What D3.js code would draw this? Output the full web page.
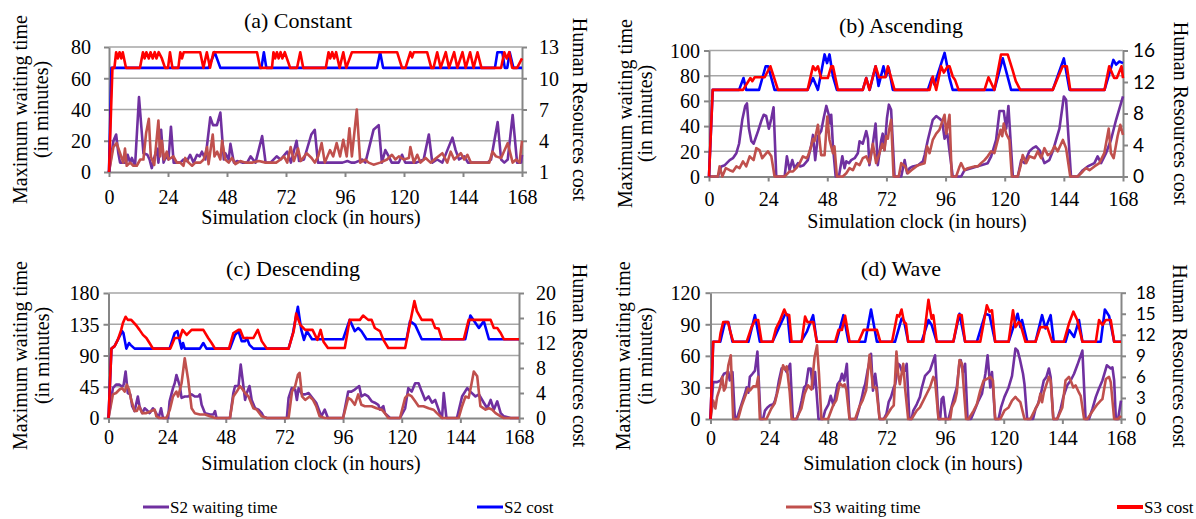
<!DOCTYPE html>
<html>
<head>
<meta charset="utf-8">
<script src="https://cdn.jsdelivr.net/npm/d3@7"></script>
<style>
  body { margin: 0; background: #fff; }
</style>
</head>
<body>
<script>
// ---- shared axis values ----
var xTicks = [0, 24, 48, 72, 96, 120, 144, 168];
var seriesNames = ["S2 waiting time", "S2 cost", "S3 waiting time", "S3 cost"];
var panelTitles = ["(a) Constant", "(b) Ascending", "(c) Descending", "(d) Wave"];

var constLeftTicks = [0, 20, 40, 60, 80];
var constRightTicks = [1, 4, 7, 10, 13];
var ascLeftTicks = [0, 20, 40, 60, 80, 100];
var ascRightTicks = [0, 4, 8, 12, 16];
var descLeftTicks = [0, 45, 90, 135, 180];
var descRightTicks = [0, 4, 8, 12, 16, 20];
var waveLeftTicks = [0, 30, 60, 90, 120];
var waveRightTicks = [0, 3, 6, 9, 12, 15, 18];

// ---- (a) constant: [hour, value] ----
var constS2Wait = [[0,0],[1.8,20],[2.9,24],[3.8,12],[4.5,6],[6,6],[7,6],[7.6,11],[8.6,6],[9.3,9],[10.6,4],[12.2,48],[14,12],[15.6,11],[16.5,8],[17.4,2.5],[18.4,9],[19.5,15],[20.1,6],[21.2,27],[22.2,6],[23.2,10],[24.2,8],[25.2,29],[26.3,6],[27.6,6],[29,6],[30.3,8],[31.7,7],[33,11],[34.4,6],[35.8,11],[36.9,10],[37.8,13],[39.2,8],[41.2,35],[42.3,30],[43.9,30],[45.3,38],[46.7,8],[47.3,12],[48.7,8],[49.4,18],[50.8,6],[52.1,7],[54.2,6],[56.2,6],[57.6,10],[59.6,6],[62.3,23],[63.7,6],[65.7,6],[68.2,10],[69.8,8],[72.5,13],[74,6],[76.3,20],[77.3,7],[79.3,8],[82.3,24],[83.7,27],[85,6],[88.5,6],[91,6],[95,6],[97,7],[98.5,6],[100,6],[103,8],[104.3,6],[107.6,27],[109.7,30],[111,6],[112.4,14],[113.8,10],[115,6],[117.9,6],[119.2,11],[120.5,6],[125,6],[128,8],[130.1,24],[131.5,6],[133.5,8],[135.6,6],[139.7,22],[141,14],[142.4,8],[144.5,10],[146,6],[150,6],[154,6],[155.4,8],[158.1,32],[159.5,8],[160.8,6],[162.2,8],[164.2,36.5],[166,6],[167.6,6],[168,11]];
var constS3Wait = [[0,0],[1.8,16],[3.1,18.5],[4.5,12],[5.8,6],[6.5,15],[7.2,4],[8.6,6],[9.9,4],[11.3,4],[12.7,8],[14,8],[15.1,25],[16.2,34],[17,10],[18.4,4.5],[20.1,33],[20.8,10],[21.5,20],[22.4,8],[23.5,13],[24.2,8],[26.2,10],[27.6,6],[29,6],[30.3,4],[31,9],[32.4,6],[33.8,4],[35.1,6],[37.2,6],[38.5,8],[39.9,16],[40.5,5],[42.2,24],[42.9,10],[44,13],[45.3,8],[46,20],[47.3,8],[48.7,6],[50,9],[51.4,5],[53.4,7],[55.5,6],[58.2,6],[61,7],[63.7,6],[68,6],[69.8,8],[71.2,10],[72.5,6],[73.9,16],[75.2,7],[76.9,15],[78,7],[80.4,12],[82.4,9],[83.7,6],[85.1,10],[86.5,18.5],[87.8,6],[89.9,14],[91.2,10],[92.6,18.5],[94,10],[95.3,20.6],[96.7,10],[97.8,28],[98.8,10],[100.8,40],[102.2,6],[104.2,8],[105.6,6],[107.6,4.7],[110.3,6],[113.1,8],[115.1,11],[116.5,8],[117.9,10],[119.9,8],[122,9],[122.6,16],[124,6],[125.4,11],[126.7,6],[128.8,9],[130.8,6],[135.6,12],[137.6,6],[139,13],[140.4,8],[143.1,12],[144.5,8],[145.8,11],[147.2,6],[152.6,6],[154.7,6],[156,13],[157.4,10],[159.5,9],[162.2,18.5],[164.2,6],[165.6,8],[167,6],[168,20]];
var constS2Cost = [[0,1],[1,11],[40.5,11],[43,12.5],[45.3,11],[62,11],[63,12.5],[64,11],[109,11],[110.3,12.5],[111.5,11],[157,11],[158,12.5],[160,12.5],[161,11],[162,11],[163,12.5],[164.5,11],[168,11]];
var constS3Cost = [[0,1],[1.4,11],[2.2,11],[2.9,12.5],[3.6,11.9],[4.3,12.5],[5,11.9],[5.6,12.5],[6.9,11],[12.6,11],[13.8,12.5],[14.5,11.9],[15.2,12.5],[16.2,11.9],[16.9,12.5],[17.8,11.9],[18.6,12.5],[19.3,11.9],[20.2,12.5],[21.5,11.9],[22.8,11],[24,11],[24.8,12.5],[25.8,11],[28.2,11],[29,12.5],[29.7,11.9],[30.4,12.5],[37.1,12.5],[38.4,11],[39.8,12.5],[41.1,11],[42.5,12.5],[60.2,12.5],[61.5,11],[66.3,11],[66.9,12.5],[67.6,11.9],[68.3,12.5],[69,11.9],[69.8,12.5],[70.5,11.9],[71.5,12.5],[73.7,11],[76.5,11],[77.8,12.5],[79,11],[88.2,11],[89.3,12.5],[90,11.9],[90.8,12.5],[91.6,11.9],[92.4,12.5],[93.8,11],[95.3,12.5],[96.5,11],[98.8,12.5],[117.2,12.5],[119.2,11],[120.6,11],[122.6,12.5],[123.3,12],[124,12.5],[129.4,12.5],[131.1,11],[132,11],[133.5,12.5],[134.9,11],[137,12.5],[138.3,11],[140.4,12.5],[141.7,11],[143.8,12.5],[145.1,11],[146.9,12.5],[148.3,11],[149.9,12.5],[151.5,11],[159.5,11],[160.8,12.5],[161.8,11.9],[162.8,12.5],[164,11],[166,11],[168,11.9]];

// ---- (b) ascending ----
var ascS2Wait = [[0,0],[3.6,0],[5,8],[6.4,9],[8.4,13],[9.7,14.5],[11.1,18.5],[12.2,26],[13.5,45],[14.7,56],[15.4,58],[16.2,38],[17.2,28],[18.1,26],[19.9,36],[21.2,44],[22.2,49],[23.2,48],[24.3,38],[25.3,46],[26.2,55],[27.3,0],[30.7,0],[31.6,16],[32.7,5],[33.8,13],[34.7,6.6],[36.1,10.6],[37,8],[38.4,9],[40.1,13],[41.5,25],[42.2,33],[43.1,13],[44.2,32],[45.5,36],[46.5,46],[47.6,56],[48.6,49],[49.2,42],[49.6,49],[50.3,24],[51.4,0],[52.7,0],[54.1,16],[55,6.6],[55.7,12],[56.8,10.6],[57.7,13],[59.1,14.5],[60.4,18.5],[61.1,28],[62.4,26],[63.8,36],[64.5,30],[65.1,9],[66.5,26],[67.6,42],[68.5,9],[69.9,29],[70.5,34],[71.2,21],[72.2,46],[73,57],[73.9,53],[75.3,0],[78,0],[79.4,13],[80.4,2.6],[81.4,6.6],[82.7,8],[84.8,9],[86.8,12],[87.5,17],[88.8,29],[90.8,45],[92.2,48],[93.5,46],[94.6,44],[95.6,30],[96.7,34],[98.9,0],[102.3,0],[103.7,5],[106.4,6.6],[110.4,9],[113.1,10.6],[114.5,16],[116.5,29],[117.9,52],[119.6,52],[120.6,38],[121.5,56],[123.3,0],[125.3,0],[126.7,13],[128,10.6],[130,20],[131.4,22.5],[132.7,24],[134.1,21],[136.1,10.6],[138.1,13],[139.5,20],[141.3,32],[142.2,38],[144,63.5],[144.9,61],[146.9,0],[149.6,0],[151.7,5],[153.7,8],[156.4,10.6],[157.7,16],[159.1,10.6],[161.1,18.5],[163.1,29],[165.2,45],[168,63.5]];
var ascS3Wait = [[0,0],[3.6,0],[4.3,8],[5.4,0],[6.8,6.6],[8.4,5],[9.7,4],[11.1,8],[12.4,6.6],[13.8,12],[15.1,8],[16.5,16],[18.1,13],[19.2,22.5],[20.5,21],[21.6,14.5],[22.6,17],[23.9,20],[25.3,16],[26.6,0],[30.7,0],[32.7,4],[34.1,4],[35.4,6.6],[36.8,10.6],[38.1,16],[39.5,14.5],[40.1,16],[41.5,24],[42.2,30],[42.8,28],[44.2,41],[45.5,17],[46.9,17],[48,47.6],[48.9,29],[50.3,18.5],[50.9,24],[51.9,0],[54.3,0],[55.7,2.6],[57,6.6],[58.4,5],[59.7,10.6],[61.1,9],[62.4,14.5],[63.8,16],[65.1,10.6],[66.5,26],[67.8,10.6],[69.2,18.5],[70.3,26],[71.2,21],[71.9,32],[72.6,30],[73,36],[73.9,45],[74.9,0],[77,0],[78,10.6],[79.6,8],[80.7,2.6],[82.1,5],[84.8,9],[87.5,10.6],[88.5,24],[89.5,18.5],[90.8,29],[92.2,34],[93.5,37],[95.6,49],[96.3,34],[97.6,49],[98.5,0],[100.3,0],[101.7,8],[102.3,10.6],[103.7,5],[105,6.6],[107.7,8],[109.1,8],[110.4,10.6],[111.8,13],[113.1,16],[114.5,20],[115.8,18.5],[117.2,29],[118.3,37],[119,32],[119.6,42],[120.6,34],[121.9,29],[122.9,0],[125.3,0],[126.4,8],[127.3,17],[128.7,10.6],[130,16],[132.1,14.5],[133.4,20],[134.8,14.5],[136.1,22.5],[137.5,17],[138.8,18.5],[140.2,24],[141.5,20],[143.6,29],[144.9,22.5],[146.6,0],[149.6,0],[151.7,4],[153,6.6],[154.4,5],[156.4,8],[158.4,10.6],[160.4,18.5],[162.2,38],[163.1,18.5],[164.2,14.5],[165.8,32],[166.9,41],[168,33]];
var ascS2Cost = [[0,0],[1.5,11],[12.2,11],[14,12.5],[15.1,11],[20.3,11],[23,14],[24,14],[26.6,11],[40,11],[42.2,12.5],[44.2,11],[46.9,15.5],[47.9,14.4],[48.9,15.5],[50.3,12.7],[51.9,11],[62.4,11],[63.8,12.5],[65.2,11],[67.6,14],[68.8,11.5],[70.8,14],[71.8,12.7],[72.9,13.8],[74.6,11],[88.8,11],[90.4,12.5],[91.5,11.7],[95.6,15.7],[97.6,12.5],[98.9,11],[115.8,11],[119.2,15],[122.6,11],[139.5,11],[144,15],[146.3,11],[160.5,11],[164.1,14.8],[165.2,14.2],[166.5,14.6],[168,14.4]];
var ascS3Cost = [[0,0],[1.5,11],[13.8,11],[16.8,12.5],[17.6,12.1],[18.5,12.6],[22.6,12.6],[24.9,14],[28,11],[40,11],[42.2,14],[43.2,13.5],[44.2,14],[45.5,12.5],[48.2,12.5],[49.6,14],[50.3,14],[52.3,11],[62.4,11],[63.8,12.5],[65.1,11],[67.6,14],[69,12.6],[71.6,12.6],[72.6,14],[75.3,11],[89.5,11],[90.8,12.7],[92.2,11],[94.2,14],[95.3,13.2],[96.9,14],[97.6,14],[98.9,12.7],[99.8,12.3],[101.3,11],[111.8,11],[113.4,12.6],[115.8,11],[118.5,15.5],[121.2,15.5],[123.2,13.5],[124.5,12.1],[126.3,11],[139.5,11],[141.5,12.5],[143.5,14],[145.2,14],[146.6,11],[160.5,11],[162.4,14],[164.4,12.5],[165.5,12.5],[167.4,14],[168,12.5]];

// ---- (c) descending ----
var descS2Wait = [[0,0],[1.8,43],[3.1,48],[4.5,48],[5.6,45],[6.2,48],[7,67],[7.9,36],[8.9,34],[9.7,17],[10.7,10],[12,31],[12.7,17],[13.8,7],[14.8,14],[15.5,12],[16.8,7],[18.2,14],[19.5,7],[20.5,0],[21.5,14],[22.3,0],[24.4,0],[25,24],[26.4,43],[27.1,50],[27.8,62],[29.2,46],[29.9,29],[31.2,31],[32.6,31],[34,34],[35.3,31],[36.7,31],[37.4,34],[38.1,19],[39.5,7],[41.5,5],[42.9,5],[43.6,10],[44.2,0],[49.7,0],[51.1,36],[51.8,46],[53.2,46],[54.1,77],[54.9,55],[55.9,26],[56.6,36],[57.7,46],[58.6,26],[60,14],[61.4,12],[62.7,7],[63.4,2],[64.8,0],[73,0],[73.7,29],[75,43],[75.8,41],[76.4,41],[77.1,26],[77.8,43],[79.2,34],[80.5,34],[81.9,36],[83,31],[85,22],[87.1,2.4],[88.5,12],[89.8,0],[96,0],[98.1,38],[99.4,38],[100.8,41],[102.6,46],[103.5,31],[104.9,34],[106.3,31],[107.7,24],[109,22],[110.4,19],[111.1,12],[112.5,17],[113.1,7],[115.2,0],[119.3,0],[121.4,14],[122.7,43],[124.1,38],[125.5,50],[126.9,50],[128.2,38],[129.6,26],[131,31],[132.4,22],[133.7,26],[135.1,12],[135.8,5],[136.5,0],[137.2,36],[138.3,0],[142.6,0],[144.7,31],[146.8,43],[148.1,38],[150.2,31],[151.6,34],[153.6,22],[155,14],[156.4,26],[157.7,12],[159.1,24],[160.5,7],[161.8,2.4],[164.6,0],[168,0]];
var descS3Wait = [[0,0],[1.8,34],[3.1,36],[4.5,41],[5.6,43],[6.6,38],[7.5,48],[8.4,41],[9.3,26],[10.7,10],[11.6,10],[12.5,17],[13.8,7],[15.5,7],[17.5,10],[18.9,12],[19.6,2.4],[21,0],[23.7,0],[25.1,12],[26.4,31],[27.8,38],[28.5,31],[29.9,50],[31.2,86],[32.6,55],[34,14],[35.3,7],[37.4,5],[39.5,5],[41.5,2.4],[43.6,0],[49.7,0],[51.1,31],[52.5,38],[53.8,46],[54.9,41],[55.9,36],[57.3,31],[59.3,14],[60.7,12],[62.7,2.4],[64.8,0],[73.7,0],[75.1,38],[76.4,46],[77.5,62],[78.2,65],[79.2,31],[80.5,26],[82.3,31],[83.7,26],[85,17],[86.4,2.4],[88.5,0],[96,0],[98.1,29],[99.4,26],[100.8,19],[102.2,34],[103.5,19],[104.9,17],[107.7,17],[109.7,14],[111.8,12],[113.1,7],[114.5,0],[119.3,0],[121.4,29],[122.7,34],[124.1,31],[125.5,24],[126.9,17],[128.9,17],[131,14],[133,12],[134.4,7],[136.5,0],[143.3,0],[144.7,17],[146.1,31],[147.4,29],[148.4,46],[149.5,67],[150.9,60],[152.2,17],[154.3,12],[155.7,14],[157,12],[158.4,7],[160.5,2.4],[161.8,0],[168,0]];
var descS2Cost = [[0,0],[1.2,11.1],[2.5,11.5],[3.8,12.5],[5.6,13.9],[6.1,13.6],[7.3,11.1],[8.4,12],[9,11.7],[10.7,11.1],[25,11.1],[27.1,13.6],[28.2,13.9],[29.9,11.1],[30.5,12],[31.2,11.1],[37.4,11.1],[38.8,12],[40.1,11.1],[49.7,11.1],[51.8,13.3],[53.2,13.9],[54.5,12.3],[55.9,12.3],[56.6,12.8],[57.7,11.7],[59.3,11.1],[73.7,11.1],[75.5,13.6],[77.5,17.8],[78.9,14.1],[80,12.5],[81.2,13.9],[83.3,12.6],[96,12.6],[98.7,15.7],[100.8,13.9],[102.2,14.4],[103.5,13.9],[105.6,12.6],[122,12.6],[123.4,15.5],[125.5,14.9],[128.2,12.6],[146,12.6],[148.1,16.4],[151.6,14.4],[153.6,15.5],[155.7,12.6],[168,12.6]];
var descS3Cost = [[0,0],[1.2,11.1],[2.5,11.5],[3.8,12.5],[5.2,14.1],[5.9,15.2],[7,16.2],[7.9,15.7],[9.3,15.7],[11.4,14.8],[12.7,14.1],[14.1,13.3],[15.5,12.8],[16.8,12],[18.2,11.1],[25.3,11.1],[27.1,12.8],[29.2,12.8],[30.3,14.1],[32,13.3],[34,14.1],[38.8,14.1],[40.8,12.8],[42.2,12],[43.6,11.1],[49.3,11.1],[51.1,13.6],[53.2,14.1],[53.9,14.1],[55.2,12.8],[59.3,12.8],[61.1,14.1],[62.7,12.3],[64.8,11.1],[73.7,11.1],[75.8,13.9],[76.8,16.7],[78.5,14.9],[80.5,14.1],[82.3,14.1],[83.5,14.1],[85.5,12.5],[86.8,14.1],[88,12.2],[89.8,11.2],[96.7,11.2],[98.7,15.7],[102.9,15.7],[104.2,16.4],[106.3,15.7],[107.7,15.7],[109,14.4],[111.1,13.9],[112.5,12.5],[114.5,11.2],[121.4,11.2],[123.4,15.2],[125.2,18.7],[126.2,17.1],[128.2,15.7],[132.4,15.7],[133.7,14.4],[135.1,14.3],[136.5,12.6],[145.4,12.6],[147.4,15.7],[156.4,15.7],[157.7,14.4],[159.1,14.4],[160.5,13.6],[161.8,12.6],[168,12.6]];

// ---- (d) wave ----
var waveS2Wait = [[0,0],[1.1,35],[2.7,35],[4.1,36.6],[5.5,43],[7.3,44.6],[7.9,36.6],[9,44.6],[10,0],[10.7,0],[11.4,4.8],[12.7,14],[14.1,24],[14.8,30],[15.5,25],[16.1,40],[17.2,43],[18.2,46],[19.2,64],[20.5,0],[21.5,0],[22.3,8],[23.3,11],[24.4,13],[25.7,14],[26.4,17.5],[27.1,24],[28,36.6],[29.1,48],[30.1,49],[31.2,44.6],[32.6,52.5],[33.7,0],[35.3,0],[36.4,8],[37.3,17.5],[38.3,30],[39.1,32],[40.1,48],[41,48],[41.9,29],[42.8,44.6],[44.2,0],[46,0],[46.9,8],[48.3,14],[49.2,22],[50.3,13],[51,21],[52,33],[53.1,36.6],[53.8,43],[54.7,36.6],[55.8,52.5],[56.9,0],[59.6,0],[60.6,8],[62,21],[62.7,29],[63.3,33],[64.3,46],[65.7,62],[66.5,27],[67.4,43],[68.1,30],[69.2,0],[70.9,0],[72,4.8],[72.9,16],[73.9,21],[75,30],[75.6,33],[76.8,52.5],[77.5,51],[78.2,46],[79.6,46],[80.3,52.5],[81.4,0],[82.3,0],[83,8],[84.4,14],[85.7,21],[86.4,29],[87.8,41],[89.8,46],[91.9,60.5],[93.3,0],[94,0],[94.6,19],[95.3,21],[96.3,0],[97.4,0],[98.8,13],[99.7,21],[100.8,30],[101.9,54],[102.4,56],[103.3,44.6],[104.2,52.5],[105.2,0],[106.6,0],[108.3,9.6],[109.7,17.5],[111.1,24],[112.5,43],[113.4,60.5],[114.5,30],[115.2,44.6],[116.5,0],[117.9,0],[118.9,11],[120.3,21],[122,30],[123.4,41],[124.8,67],[125.7,65],[126.6,57],[127.9,43],[128.5,33],[129.6,0],[132,0],[133,9.6],[134,14],[135.3,25],[136.4,36.6],[137.5,40],[138.5,48],[139.2,40],[140.3,0],[141.9,0],[143.3,9.6],[144.4,21],[146,32],[147.4,36.6],[148.8,43],[150.1,51],[152.2,65],[153.5,0],[154.9,0],[156.3,9.6],[157.7,21],[159,29],[160.4,36.6],[161.4,44.6],[162.2,51],[163.8,48],[164.5,49],[165.2,36.6],[165.9,0],[166.8,0],[168,17.5]];
var waveS3Wait = [[0,0],[1.1,17.5],[2,10],[2.7,21],[3.8,29],[4.8,40],[5.5,27],[6.2,30],[7.3,51],[8.3,60.5],[9.3,0],[11.3,0],[12.7,12],[14.1,21],[15.4,29],[16.1,27],[17.5,31],[18.8,31],[19.5,40],[20.2,0],[22.9,0],[24.9,10],[26.3,15],[28.3,34],[29.7,51],[30.5,47],[31.2,50],[32.4,26],[33.2,0],[35.1,0],[37.2,10],[38.5,24],[39.9,32],[41.3,28],[42.6,59],[43.6,70],[44.4,43],[45.4,0],[48.1,0],[50.2,13],[51.5,18],[52.9,34],[54.2,31],[54.9,33],[55.6,28],[56.9,0],[59.2,0],[61,12],[62.3,18],[63.7,27.5],[65.1,61],[66.5,30],[67.8,30],[69.2,0],[71.2,0],[72.6,5],[73.9,10],[75,13],[76.1,64],[76.8,43],[77.5,33],[78.2,43],[78.9,52.5],[79.6,30],[80.9,0],[82.3,0],[84.4,8],[85.7,11],[87.1,17.5],[88.5,24],[89.8,30],[91.2,40],[91.9,36.6],[93.3,0],[98.1,0],[98.8,11],[100.1,17.5],[100.8,25],[101.9,56],[102.9,52.5],[104.6,0],[105.6,0],[107.7,8],[109,14],[110.4,27],[111.8,36.6],[113.1,38],[114.5,40],[115.6,36.6],[116.5,0],[118.6,0],[120.3,8],[122,11],[123.4,17.5],[124.8,21],[125.5,19],[126.8,16],[128.5,0],[130.9,0],[133,9.6],[134.4,16],[135,24],[135.7,16],[136.4,25],[138.5,40],[139.2,36.6],[140.3,0],[141.9,0],[144,11],[145.3,36.6],[146.7,40],[147.4,36.6],[148.5,30],[149.4,32],[150.8,25],[151.5,22],[152.9,0],[154.2,0],[157,9.6],[158.3,14],[159.7,17.5],[160.4,19],[161.8,38],[163.1,40],[163.8,35],[165.2,0],[166.8,0],[168,3]];
var waveS2Cost = [[0,0],[1.1,11],[4,11],[5.9,13.8],[7.3,13.8],[9,11],[15.5,11],[18.2,14.8],[20.2,11],[25.4,11],[28,13],[30.5,14.9],[31.5,14.9],[32.6,11],[37,11],[39.5,12.5],[42,14.8],[43.5,11],[51.5,11],[54.4,14.8],[56.5,11],[63.3,11],[65.7,15.6],[68.1,11],[75.5,11],[78.2,14.3],[79.2,14],[80.9,11],[86.4,11],[89.2,14.1],[90.5,13.4],[92.6,11],[99.4,11],[101.9,15],[104.2,11],[109,11],[112.5,15],[114.2,14.8],[116.5,11],[122,11],[125.7,15],[126.8,13.1],[127.5,14.1],[129.6,11],[133,11],[135.7,14.8],[137.1,12.9],[139.2,14.8],[140.5,11],[145.3,11],[146.7,12.7],[148.8,11.7],[150.8,14.1],[152.2,11],[159.7,11],[161.4,15.6],[163.1,14.7],[165.2,11],[168,11]];
var waveS3Cost = [[0,0],[1.1,11],[3.6,11],[4.1,12.2],[5.2,13.8],[7.2,13.8],[8.2,12.3],[9.3,11],[14.8,11],[16.8,13.1],[18.2,14.1],[19.5,14.1],[20.9,11],[25.4,11],[26.8,12.9],[28.5,14.1],[30.2,15.6],[31.2,14.8],[32.2,14.8],[33.2,11],[37.3,11],[38.7,14.6],[39.7,13.8],[42.1,13.8],[43.5,11],[51,11],[52.4,12.7],[53.8,12.7],[55.1,14.7],[56.9,11],[60.6,11],[62.7,12.7],[68.1,12.7],[69.5,11],[74.3,11],[76.4,14.8],[77.2,14.6],[78.2,15.6],[79.2,13.8],[80,13.6],[80.9,11],[87.1,11],[89.2,17],[90.5,14.3],[91.2,14.8],[92.6,11],[99.4,11],[101.5,14.8],[102.8,14.8],[104.2,11],[110.4,11],[113.1,16.2],[114.2,15.3],[115.2,15.5],[116.5,11],[122,11],[123.8,15.5],[124.8,13.1],[126.1,13.8],[126.8,13.6],[128.9,11],[133,11],[135,13.1],[137.8,13.1],[139.8,11],[144.6,11],[146.7,13.6],[148.5,15.3],[150.1,14.1],[152.2,11],[157.7,11],[159,14.1],[160.4,13.4],[161.8,14.1],[163.8,14.1],[165.2,11],[168,11]];

// ---- layout ----
var W = 1196, H = 519;
var colors = ["#7030A0", "#0000FF", "#C0504D", "#FF0000"];
var serif = "'Liberation Serif','Times New Roman',serif";
var sans = "Lato,'Liberation Sans',sans-serif";
var axisGray = "#868686";
var gridGray = "#a6a6a6";

var panels = [
  { title: panelTitles[0], left: 109, right: 522, top: 47, bottom: 172,
    leftTicks: constLeftTicks, rightTicks: constRightTicks, rightFont: serif, rightSize: 20,
    series: [constS2Wait, constS2Cost, constS3Wait, constS3Cost],
    lPad: 13, rPad: 12, xPad: 13, titleX: 298, titleY: 28,
    xLabelX: 311, xLabelY: 224, yLabelX: 20, yLabelX2: 41, rLabelX: 580 },
  { title: panelTitles[1], left: 709, right: 1123, top: 50.5, bottom: 176.5,
    leftTicks: ascLeftTicks, rightTicks: ascRightTicks, rightFont: sans, rightSize: 19,
    series: [ascS2Wait, ascS2Cost, ascS3Wait, ascS3Cost],
    lPad: 4, rPad: 5, xPad: 10, titleX: 901, titleY: 33,
    xLabelX: 917, xLabelY: 228, yLabelX: 625, yLabelX2: 645, rLabelX: 1181 },
  { title: panelTitles[2], left: 108.5, right: 519, top: 293, bottom: 418,
    leftTicks: descLeftTicks, rightTicks: descRightTicks, rightFont: serif, rightSize: 20,
    series: [descS2Wait, descS2Cost, descS3Wait, descS3Cost],
    lPad: 4, rPad: 12, xPad: 7, titleX: 293, titleY: 276,
    xLabelX: 311, xLabelY: 470, yLabelX: 20, yLabelX2: 42, rLabelX: 580 },
  { title: panelTitles[3], left: 710.5, right: 1121, top: 292.7, bottom: 419,
    leftTicks: waveLeftTicks, rightTicks: waveRightTicks, rightFont: sans, rightSize: 17,
    series: [waveS2Wait, waveS2Cost, waveS3Wait, waveS3Cost],
    lPad: 5, rPad: 10, xPad: 7, titleX: 901, titleY: 276,
    xLabelX: 913, xLabelY: 470, yLabelX: 623, yLabelX2: 645, rLabelX: 1180 }
];

var svg = d3.select("body")
  .append("svg")
  .attr("width", W)
  .attr("height", H)
  .style("background", "#fff");

function styleAxis(g, font, size) {
  g.attr("font-family", font).attr("font-size", size);
  g.select(".domain").attr("stroke", axisGray).attr("stroke-width", 2);
  g.selectAll(".tick line").attr("stroke", axisGray).attr("stroke-width", 2);
  g.selectAll(".tick text").attr("fill", "#000");
}

function drawPanel(p) {
  var g = svg.append("g");
  var x = d3.scaleLinear().domain([0, 168]).range([p.left, p.right]);
  var yL = d3.scaleLinear()
    .domain([p.leftTicks[0], p.leftTicks[p.leftTicks.length - 1]])
    .range([p.bottom, p.top]);
  var yR = d3.scaleLinear()
    .domain([p.rightTicks[0], p.rightTicks[p.rightTicks.length - 1]])
    .range([p.bottom, p.top]);

  // horizontal gridlines on the left ticks
  g.selectAll("line.grid")
    .data(p.leftTicks.slice(1))
    .enter()
    .append("line")
    .attr("class", "grid")
    .attr("x1", p.left).attr("x2", p.right)
    .attr("y1", function(d) { return yL(d); })
    .attr("y2", function(d) { return yL(d); })
    .attr("stroke", gridGray)
    .attr("stroke-width", 1.6);

  var bx = g.append("g")
    .attr("transform", "translate(0," + p.bottom + ")")
    .call(d3.axisBottom(x).tickValues(xTicks).tickSize(5).tickSizeOuter(0).tickPadding(p.xPad));
  styleAxis(bx, serif, 20);

  var lx = g.append("g")
    .attr("transform", "translate(" + p.left + ",0)")
    .call(d3.axisLeft(yL).tickValues(p.leftTicks).tickSize(5).tickSizeOuter(0).tickPadding(p.lPad));
  styleAxis(lx, serif, 20);
  lx.selectAll(".tick text").attr("dy", "0.34em");

  var rx = g.append("g")
    .attr("transform", "translate(" + p.right + ",0)")
    .call(d3.axisRight(yR).tickValues(p.rightTicks).tickSize(5).tickSizeOuter(0).tickPadding(p.rPad));
  styleAxis(rx, p.rightFont, p.rightSize);
  rx.selectAll(".tick text").attr("dy", "0.34em");

  // series: waiting times on the left scale, costs on the right scale
  var order = [0, 2, 1, 3];
  order.forEach(function(i) {
    var yScale = (i === 1 || i === 3) ? yR : yL;
    var line = d3.line()
      .x(function(d) { return x(d[0]); })
      .y(function(d) { return yScale(d[1]); });
    g.append("path")
      .datum(p.series[i])
      .attr("d", line)
      .attr("fill", "none")
      .attr("stroke", colors[i])
      .attr("stroke-width", 2.6)
      .attr("stroke-linejoin", "round");
  });

  // titles
  g.append("text")
    .attr("x", p.titleX).attr("y", p.titleY)
    .attr("text-anchor", "middle")
    .attr("font-family", serif).attr("font-size", 22)
    .text(p.title);

  g.append("text")
    .attr("x", p.xLabelX).attr("y", p.xLabelY)
    .attr("text-anchor", "middle")
    .attr("font-family", serif).attr("font-size", 20)
    .text("Simulation clock (in hours)");

  var cy = (p.top + p.bottom) / 2;
  g.append("text")
    .attr("transform", "translate(" + p.yLabelX + "," + cy + ") rotate(-90)")
    .attr("text-anchor", "middle").attr("dy", "0.35em")
    .attr("font-family", serif).attr("font-size", 20)
    .text("Maximum waiting time");
  g.append("text")
    .attr("transform", "translate(" + p.yLabelX2 + "," + cy + ") rotate(-90)")
    .attr("text-anchor", "middle").attr("dy", "0.35em")
    .attr("font-family", serif).attr("font-size", 20)
    .text("(in minutes)");
  g.append("text")
    .attr("transform", "translate(" + p.rLabelX + "," + cy + ") rotate(90)")
    .attr("text-anchor", "middle").attr("dy", "0.35em")
    .attr("font-family", serif).attr("font-size", 20)
    .text("Human Resources cost");
}

panels.forEach(drawPanel);

// legend
var legendX = [143, 477, 786, 1117];
var legend = svg.append("g");
seriesNames.forEach(function(name, i) {
  legend.append("line")
    .attr("x1", legendX[i]).attr("x2", legendX[i] + 26)
    .attr("y1", 507).attr("y2", 507)
    .attr("stroke", colors[i])
    .attr("stroke-width", i === 3 ? 4 : 3);
  legend.append("text")
    .attr("x", legendX[i] + 27).attr("y", 513)
    .attr("font-family", serif).attr("font-size", 17)
    .text(name);
});
</script>
</body>
</html>
